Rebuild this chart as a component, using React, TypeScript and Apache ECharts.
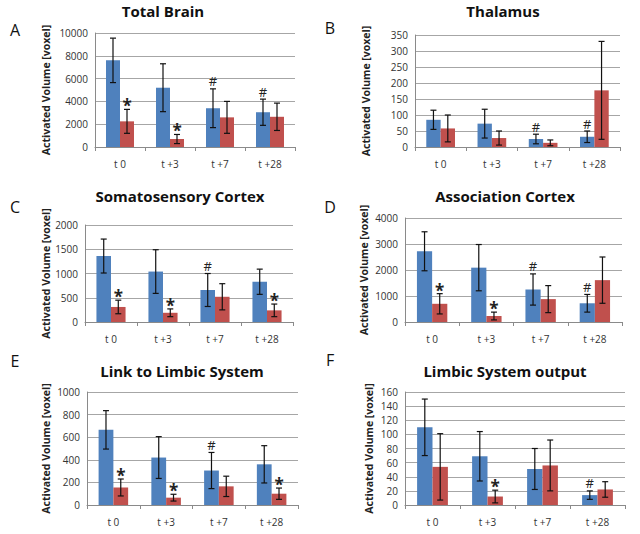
import React, { useEffect, useRef } from "react";
import * as echarts from "echarts";

const categories = ["t 0", "t +3", "t +7", "t +28"];

// A Total Brain
const totalBrainBlue = [7600, 5200, 3400, 3050];
const totalBrainBlueErr = [1950, 2100, 1700, 1150];
const totalBrainRed = [2250, 700, 2600, 2650];
const totalBrainRedErr = [1050, 400, 1400, 1200];
const totalBrainBlueMarks = ["", "", "#", "#"];
const totalBrainRedMarks = ["*", "*", "", ""];

// B Thalamus
const thalamusBlue = [85, 73, 25, 32];
const thalamusBlueErr = [30, 45, 15, 18];
const thalamusRed = [58, 28, 13, 177];
const thalamusRedErr = [42, 22, 9, 153];
const thalamusBlueMarks = ["", "", "#", "#"];
const thalamusRedMarks = ["", "", "", ""];

// C Somatosensory Cortex
const somatoBlue = [1360, 1040, 660, 830];
const somatoBlueErr = [350, 450, 340, 260];
const somatoRed = [310, 190, 520, 240];
const somatoRedErr = [140, 80, 270, 130];
const somatoBlueMarks = ["", "", "#", ""];
const somatoRedMarks = ["*", "*", "", "*"];

// D Association Cortex
const assocBlue = [2720, 2090, 1250, 720];
const assocBlueErr = [750, 890, 600, 340];
const assocRed = [700, 230, 880, 1610];
const assocRedErr = [390, 150, 520, 890];
const assocBlueMarks = ["", "", "#", "#"];
const assocRedMarks = ["*", "*", "", ""];

// E Link to Limbic System
const linkBlue = [665, 420, 305, 360];
const linkBlueErr = [170, 185, 160, 165];
const linkRed = [155, 65, 165, 100];
const linkRedErr = [75, 30, 90, 50];
const linkBlueMarks = ["", "", "#", ""];
const linkRedMarks = ["*", "*", "", "*"];

// F Limbic System output
const outputBlue = [110, 69, 51, 14];
const outputBlueErr = [40, 35, 29, 6];
const outputRed = [54, 12, 56, 22];
const outputRedErr = [47, 9, 36, 11];
const outputBlueMarks = ["", "", "", "#"];
const outputRedMarks = ["", "*", "", ""];

const panelTitles = [
  "Total Brain",
  "Thalamus",
  "Somatosensory Cortex",
  "Association Cortex",
  "Link to Limbic System",
  "Limbic System output",
];
const panelLetters = ["A", "B", "C", "D", "E", "F"];
const yMax = [10000, 350, 2000, 4000, 1000, 160];
const yInterval = [2000, 50, 500, 1000, 200, 20];

const panelData = [
  [totalBrainBlue, totalBrainBlueErr, totalBrainRed, totalBrainRedErr, totalBrainBlueMarks, totalBrainRedMarks],
  [thalamusBlue, thalamusBlueErr, thalamusRed, thalamusRedErr, thalamusBlueMarks, thalamusRedMarks],
  [somatoBlue, somatoBlueErr, somatoRed, somatoRedErr, somatoBlueMarks, somatoRedMarks],
  [assocBlue, assocBlueErr, assocRed, assocRedErr, assocBlueMarks, assocRedMarks],
  [linkBlue, linkBlueErr, linkRed, linkRedErr, linkBlueMarks, linkRedMarks],
  [outputBlue, outputBlueErr, outputRed, outputRedErr, outputBlueMarks, outputRedMarks],
] as any[];

// layout
const grids = [
  { left: 95, top: 33, width: 200, height: 114 },
  { left: 415, top: 35, width: 205, height: 112 },
  { left: 85, top: 225, width: 208, height: 97 },
  { left: 405, top: 218, width: 217, height: 104 },
  { left: 87, top: 392, width: 211, height: 113 },
  { left: 405, top: 392, width: 220, height: 113 },
];
const nameCenters = [45, 365, 48, 363, 45, 368];
const titlePos = [
  [163, 11],
  [503, 11],
  [180, 196],
  [505, 196],
  [182, 371],
  [505, 371],
];
const letterPos = [
  [15, 30],
  [330, 28],
  [15, 207],
  [330, 207],
  [15, 361],
  [330, 360],
];

const BLUE = "#4f81bd";
const RED = "#c0504d";
const FONT = "'Open Sans', sans-serif";
const CAT_GAP = 0.44;

function errorSeries(i: number, side: number, vals: number[], errs: number[], marks: string[]) {
  return {
    type: "custom",
    xAxisIndex: i,
    yAxisIndex: i,
    z: 5,
    silent: true,
    data: vals.map((v, k) => [k, v, errs[k], side]),
    renderItem: (params: any, api: any) => {
      const ci = api.value(0);
      const v = api.value(1);
      const e = api.value(2);
      const bandW = api.size([1, 0])[0];
      const barW = (bandW * (1 - CAT_GAP)) / 2;
      const base = api.coord([ci, v]);
      const cx = base[0] + (side === 0 ? -barW / 2 : barW / 2);
      const yTop = api.coord([ci, v + e])[1];
      const yBot = api.coord([ci, v - e])[1];
      const cap = 3;
      const st = { stroke: "#111", lineWidth: 1.2 };
      const children: any[] = [
        { type: "line", shape: { x1: cx, y1: yTop, x2: cx, y2: yBot }, style: st },
        { type: "line", shape: { x1: cx - cap, y1: yTop, x2: cx + cap, y2: yTop }, style: st },
        { type: "line", shape: { x1: cx - cap, y1: yBot, x2: cx + cap, y2: yBot }, style: st },
      ];
      const m = marks[params.dataIndex];
      if (m) {
        const isStar = m === "*";
        children.push({
          type: "text",
          x: cx,
          y: yTop - (isStar ? -5 : 1),
          style: {
            text: m,
            fill: "#222",
            font: isStar ? `bold 17px ${FONT}` : `13px ${FONT}`,
            align: "center",
            verticalAlign: "bottom",
          },
        });
      }
      return { type: "group", children };
    },
  };
}

export default function App() {
  const ref = useRef<HTMLDivElement>(null);
  useEffect(() => {
    const chart = echarts.init(ref.current!, null, { renderer: "svg" });
    const grid: any[] = [];
    const xAxis: any[] = [];
    const yAxis: any[] = [];
    const series: any[] = [];
    const graphic: any[] = [];
    panelData.forEach((pd: any[], i: number) => {
      const [blue, blueErr, red, redErr, blueMarks, redMarks] = pd;
      const g = grids[i];
      grid.push({ ...g, containLabel: false });
      xAxis.push({
        type: "category",
        gridIndex: i,
        data: categories,
        axisLine: { lineStyle: { color: "#8a8a8a" } },
        axisTick: { show: true, length: 4, lineStyle: { color: "#8a8a8a" } },
        axisLabel: { color: "#333", fontSize: 10, fontFamily: FONT, margin: 12 },
      });
      yAxis.push({
        type: "value",
        gridIndex: i,
        min: 0,
        max: yMax[i],
        interval: yInterval[i],
        name: "Activated Volume [voxel]",
        nameLocation: "middle",
        nameGap: g.left - nameCenters[i] - 6,
        nameTextStyle: { fontFamily: FONT, fontWeight: "bold", fontSize: 10.5, color: "#222" },
        axisLine: { show: true, lineStyle: { color: "#8a8a8a" } },
        axisTick: { show: false },
        axisLabel: {
          color: "#333",
          fontSize: 10,
          fontFamily: FONT,
          margin: 7,
          formatter: (val: number) => String(val),
        },
        splitLine: { lineStyle: { color: "#a6a6a6" } },
      });
      series.push({
        type: "bar",
        xAxisIndex: i,
        yAxisIndex: i,
        data: blue,
        itemStyle: { color: BLUE },
        barGap: "0%",
        barCategoryGap: CAT_GAP * 100 + "%",
      });
      series.push({
        type: "bar",
        xAxisIndex: i,
        yAxisIndex: i,
        data: red,
        itemStyle: { color: RED },
        barGap: "0%",
        barCategoryGap: CAT_GAP * 100 + "%",
      });
      series.push(errorSeries(i, 0, blue, blueErr, blueMarks));
      series.push(errorSeries(i, 1, red, redErr, redMarks));
      graphic.push({
        type: "text",
        x: titlePos[i][0],
        y: titlePos[i][1],
        style: {
          text: panelTitles[i],
          font: `bold 15px ${FONT}`,
          fill: "#111",
          align: "center",
          verticalAlign: "middle",
        },
      });
      graphic.push({
        type: "text",
        x: letterPos[i][0],
        y: letterPos[i][1],
        style: {
          text: panelLetters[i],
          font: `16px ${FONT}`,
          fill: "#111",
          align: "center",
          verticalAlign: "middle",
        },
      });
    });
    chart.setOption({
      animation: false,
      backgroundColor: "#ffffff",
      grid,
      xAxis,
      yAxis,
      series,
      graphic,
    });
    return () => chart.dispose();
  }, []);
  return <div ref={ref} style={{ position: "absolute", left: 0, top: 0, width: 640, height: 534 }} />;
}
